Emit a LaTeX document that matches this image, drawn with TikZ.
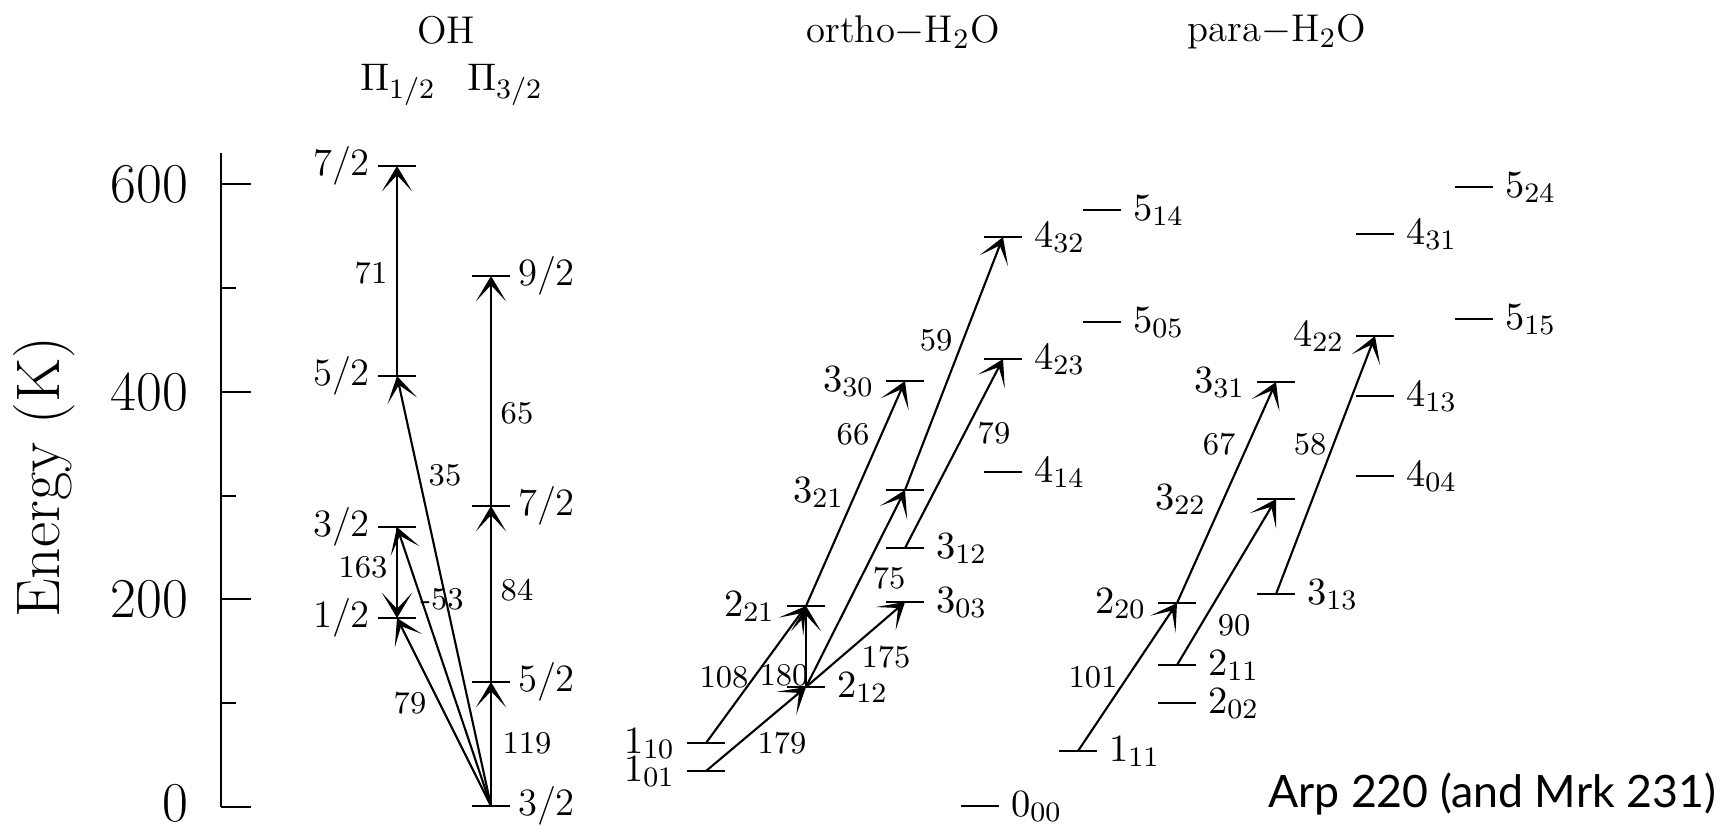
\documentclass[tikz,border=0pt]{standalone}
\usepackage{amsmath}
\usepackage{fontspec}
\newfontfamily\arpfont{Lato}
\usetikzlibrary{arrows.meta}

\begin{document}
\begin{tikzpicture}[x=0.01cm,y=-0.01cm,line width=0.6pt,
  tr/.style={-{Stealth[length=7.2pt,width=8.6pt,inset=4.6pt]}},
  lv/.style={font=\fontsize{11}{13}\selectfont,inner sep=0pt},
  tl/.style={font=\fontsize{9}{10}\selectfont,inner sep=0pt},
  big/.style={font=\fontsize{16}{18}\selectfont,inner sep=0pt},
  rl/.style={lv,anchor=base west},
  ll/.style={lv,anchor=base east}]
\useasboundingbox (0,0) rectangle (1725,826);
% energy axis
\draw (221,153)--(221,807);
\foreach \e/\y in {0/807,200/599,400/392,600/184}{\draw (221,\y)--(251,\y);}
\foreach \e/\y in {0/803,200/599,400/392,600/184}{\node[big,anchor=east] (e\e) at (189,\y) {\e};}
\foreach \y in {703,496,288}{\draw (221,\y)--(236,\y);}
\node[big,font=\fontsize{17.5}{19}\selectfont,rotate=90] (ylab) at (44,477) {Energy (K)};
% titles
\node[lv] (oh) at (446,30) {OH};
\node[lv] (pia) at (398,85) {$\Pi_{1/2}$};
\node[lv] (pib) at (505,85) {$\Pi_{3/2}$};
\node[lv] (orth) at (903,32) {ortho$-$H$_2$O};
\node[lv] (para) at (1277,32) {para$-$H$_2$O};
% OH levels
\foreach \n/\x/\y/\t in {a72/397/166/7\slash2,a52/397/376/5\slash2,a32/397/527/3\slash2,a12/397/618/1\slash2}{
  \coordinate (\n) at (\x,\y);\draw (\n) ++(-19,0) -- ++(38,0);
  \node[lv,anchor=east] (t\n) at ([xshift=-0.26cm]\n) {\t};}
\foreach \n/\x/\y/\t in {b92/491/276/9\slash2,b72/491/506/7\slash2,b52/491/682/5\slash2,b32/491/806/3\slash2}{
  \coordinate (\n) at (\x,\y);\draw (\n) ++(-19,0) -- ++(38,0);
  \node[lv,anchor=west] (t\n) at ([xshift=0.26cm]\n) {\t};}
% water levels, label on the right
\foreach \n/\x/\y/\t in {l514/1102/210/5_{14},l432/1003/237/4_{32},l505/1102/322/5_{05},l423/1003/359/4_{23},
  l414/1003/472/4_{14},l312/905/548/3_{12},l303/905/602/3_{03},l212/806/687/2_{12},l000/980/806/0_{00},
  p524/1474/187/5_{24},p431/1375/234/4_{31},p515/1474/319/5_{15},p413/1375/396/4_{13},p404/1375/476/4_{04},
  p313/1276/594/3_{13},p211/1177/665/2_{11},p202/1177/703/2_{02},p111/1078/751/1_{11}}{
  \coordinate (\n) at (\x,\y);\draw (\n) ++(-19,0) -- ++(38,0);
  \node[rl] (t\n) at ([shift={(30,10)}]\n) {$\t$};}
% water levels, label on the left
\foreach \n/\x/\y/\t in {l330/905/381/3_{30},l221/806/606/2_{21},l110/706/743/1_{10},l101/706/771/1_{01},
  p422/1375/336/4_{22},p331/1276/382/3_{31},p220/1177/603/2_{20}}{
  \coordinate (\n) at (\x,\y);\draw (\n) ++(-19,0) -- ++(38,0);
  \node[ll] (t\n) at ([shift={(-30,10)}]\n) {$\t$};}
\coordinate (l321) at (905,490);\draw (l321) ++(-19,0) -- ++(38,0);
\node[ll] (tl321) at ([shift={(-60,12)}]l321) {$3_{21}$};
\coordinate (p322) at (1276,499);\draw (p322) ++(-19,0) -- ++(38,0);
\node[ll] (tp322) at ([shift={(-69,10)}]p322) {$3_{22}$};
% transitions
\foreach \a/\b/\t/\x/\y in {b32/b52/119/527/743,b52/b72/84/517/590,b72/b92/65/517/413,
  b32/a52/35/445/475,b32/a32/-53/442/599,b32/a12/79/410/703,a52/a72/71/371/273,a32/a12/163/363/567,
  l110/l221/108/724/677,l101/l212/179/782/743,l212/l221/180/784/675,l212/l303/175/886/657,
  l212/l321/75/889/578,l221/l330/66/853/434,l321/l432/59/936/340,l312/l423/79/994/433,
  p111/p220/101/1093/677,p220/p331/67/1219/444,p211/p322/90/1234/625,p313/p422/58/1310/444}{
  \draw[tr] (\a) -- (\b);
  \node[tl] (m\a\b) at (\x,\y) {\t};}
\node[font=\arpfont\fontsize{12.7}{14}\selectfont,anchor=base east,inner sep=0pt] (arp) at (1717,807) {Arp 220 (and Mrk 231)};
\end{tikzpicture}
\end{document}
